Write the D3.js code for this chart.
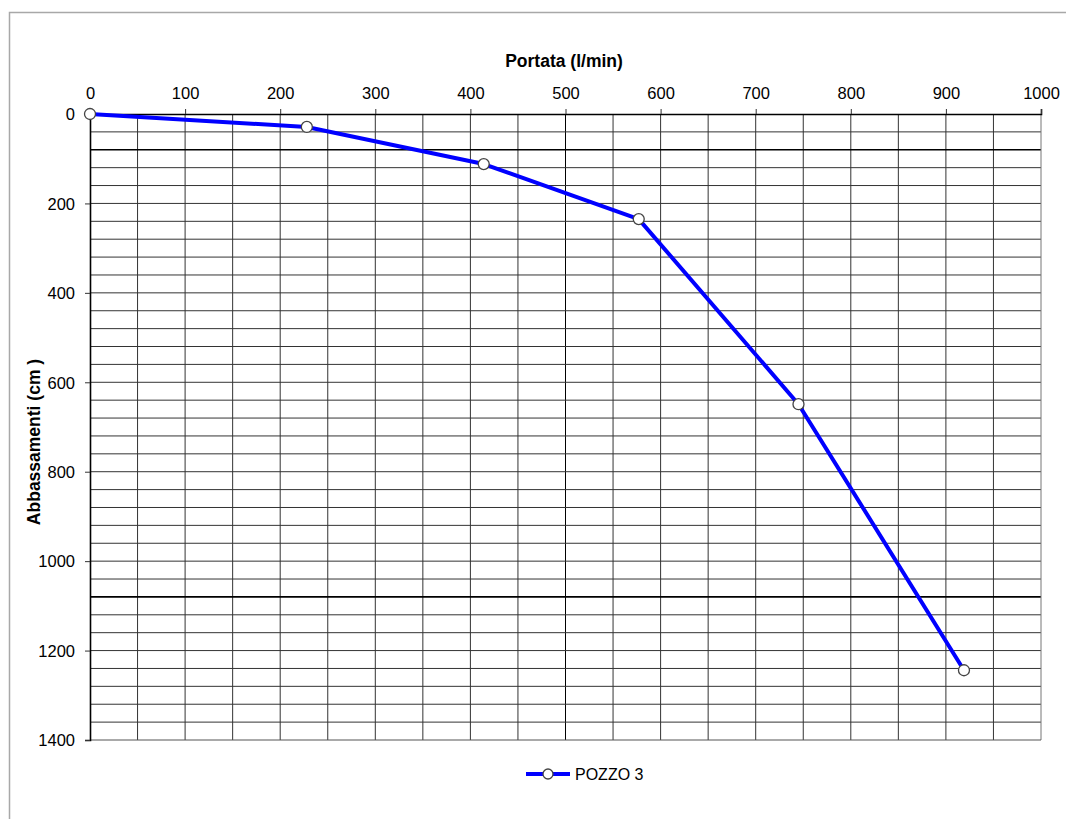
<!DOCTYPE html>
<html>
<head>
<meta charset="utf-8">
<script src="https://cdn.jsdelivr.net/npm/d3@7"></script>
<style>
  body { margin: 0; background: #fff; }
  svg { display: block; font-family: "Liberation Sans", Arial, sans-serif; }
  .tick text { font-size: 16.5px; fill: #000; }
</style>
</head>
<body>
<script>
// data
const portata = [0, 228, 414, 577, 745, 919];        // l/min
const abbassamenti = [0, 29, 112, 235, 649, 1244];   // cm
const seriesName = 'POZZO 3';

// tick labels
const xTickValues = [0, 100, 200, 300, 400, 500, 600, 700, 800, 900, 1000];
const yTickValues = [0, 200, 400, 600, 800, 1000, 1200, 1400];

// constants
const width = 1066;
const height = 819;
const plot = { left: 90, top: 114, right: 1041, bottom: 740 };

const svg = d3.select('body')
  .append('svg')
  .attr('width', width)
  .attr('height', height);

// outer frame (cut by the window on right/bottom)
svg.append('rect')
  .attr('x', 9.5)
  .attr('y', 12.5)
  .attr('width', 1100)
  .attr('height', 900)
  .attr('fill', 'none')
  .attr('stroke', '#a8a8a8')
  .attr('stroke-width', 1.5);

const x = d3.scaleLinear().domain([0, 1000]).range([plot.left, plot.right]);
const y = d3.scaleLinear().domain([0, 1400]).range([plot.top, plot.bottom]);

// grid: vertical every 50, horizontal every 40
const grid = svg.append('g').attr('class', 'grid');
grid.selectAll('line.v')
  .data(d3.range(50, 1000, 50))
  .join('line')
  .attr('class', 'v')
  .attr('x1', (d) => x(d)).attr('x2', (d) => x(d))
  .attr('y1', plot.top).attr('y2', plot.bottom)
  .attr('stroke', (d) => (d === 500 ? '#000' : '#333'))
  .attr('stroke-width', 1);
grid.selectAll('line.h')
  .data(d3.range(40, 1400, 40))
  .join('line')
  .attr('class', 'h')
  .attr('x1', plot.left).attr('x2', plot.right)
  .attr('y1', (d) => y(d)).attr('y2', (d) => y(d))
  .attr('stroke', (d) => (d === 80 || d === 1080 ? '#000' : '#333'))
  .attr('stroke-width', (d) => (d === 80 || d === 1080 ? 1.6 : 1));

// plot border
svg.append('line')
  .attr('x1', plot.right).attr('x2', plot.right)
  .attr('y1', plot.top).attr('y2', plot.bottom)
  .attr('stroke', '#777');
svg.append('line')
  .attr('x1', plot.left).attr('x2', plot.right)
  .attr('y1', plot.bottom).attr('y2', plot.bottom)
  .attr('stroke', '#555');

// axes
const gTop = svg.append('g')
  .attr('transform', `translate(0, ${plot.top})`)
  .call(d3.axisTop(x).tickValues(xTickValues).tickFormat(d3.format('d'))
    .tickSize(5).tickPadding(10.5));
const gLeft = svg.append('g')
  .attr('transform', `translate(${plot.left}, 0)`)
  .call(d3.axisLeft(y).tickValues(yTickValues).tickFormat(d3.format('d'))
    .tickSize(5).tickPadding(10));
[gTop, gLeft].forEach((g) => {
  g.select('.domain').attr('stroke', '#000').attr('stroke-width', 1.6);
  g.selectAll('.tick line').attr('stroke', '#333');
  g.attr('font-family', null).attr('font-size', null);
});
gLeft.selectAll('.tick text').attr('dy', '0.35em');

// axis titles
svg.append('text')
  .attr('x', 564)
  .attr('y', 67)
  .attr('text-anchor', 'middle')
  .attr('font-size', 17.5)
  .attr('font-weight', 'bold')
  .text('Portata (l/min)');
svg.append('text')
  .attr('transform', 'translate(40, 442) rotate(-90)')
  .attr('text-anchor', 'middle')
  .attr('font-size', 17.5)
  .attr('font-weight', 'bold')
  .text('Abbassamenti (cm )');

// series line + markers
const points = portata.map((p, i) => ({ p, a: abbassamenti[i] }));
const line = d3.line().x((d) => x(d.p)).y((d) => y(d.a));
svg.append('path')
  .datum(points)
  .attr('d', line)
  .attr('fill', 'none')
  .attr('stroke', '#0000ff')
  .attr('stroke-width', 4)
  .attr('stroke-linejoin', 'round');
svg.selectAll('circle.pt')
  .data(points)
  .join('circle')
  .attr('class', 'pt')
  .attr('cx', (d) => x(d.p))
  .attr('cy', (d) => y(d.a))
  .attr('r', 5.5)
  .attr('fill', '#fff')
  .attr('stroke', '#444')
  .attr('stroke-width', 1.3);

// legend
const legend = svg.append('g').attr('transform', 'translate(526, 774)');
legend.append('line')
  .attr('x1', 0).attr('x2', 44)
  .attr('stroke', '#0000ff')
  .attr('stroke-width', 4);
legend.append('circle')
  .attr('cx', 22)
  .attr('r', 5)
  .attr('fill', '#fff')
  .attr('stroke', '#444')
  .attr('stroke-width', 1.3);
legend.append('text')
  .attr('x', 49)
  .attr('dy', '0.36em')
  .attr('font-size', 16)
  .text(seriesName);
</script>
</body>
</html>
